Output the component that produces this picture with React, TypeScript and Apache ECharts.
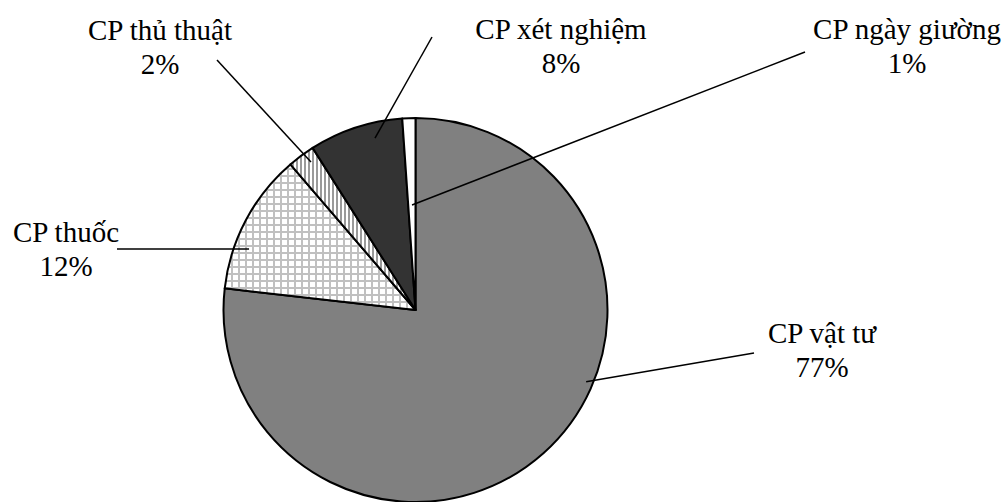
import React, { useEffect, useRef } from "react";
import * as echarts from "echarts";

// ---- data ----
const CATEGORIES = ["CP vật tư", "CP thuốc", "CP thủ thuật", "CP xét nghiệm", "CP ngày giường"];
const VALUES = [76.8, 11.9, 2.3, 7.9, 1.1];

// ---- layout (pixels / fractions) ----
const CX = 415.5;
const CY = 310;
const R = 192;
const LABEL_CENTERS = [[822, 350], [66, 249], [160, 47], [561, 46], [907, 46]];
const LINE_STARTS = [[754, 353], [117, 249], [217, 60], [432, 37], [805, 52]];
const LEADER_ANGLE_FRAC = [0.408, 0.318, 0.66, 0.673, 0.52];
const LEADER_RADIUS_FRAC = [0.964, 0.923, 0.944, 0.92, 0.547];

function makePattern(kind: "grid" | "stripes") {
  const c = document.createElement("canvas");
  const w = kind === "grid" ? 7 : 4;
  const h = kind === "grid" ? 7 : 4;
  c.width = w;
  c.height = h;
  const ctx = c.getContext("2d")!;
  ctx.fillStyle = "#ffffff";
  ctx.fillRect(0, 0, w, h);
  if (kind === "grid") {
    ctx.fillStyle = "#c0c0c0";
    ctx.fillRect(0, 0, w, 2);
    ctx.fillRect(0, 0, 2, h);
  } else {
    ctx.fillStyle = "#9a9a9a";
    ctx.fillRect(0, 0, 2, h);
  }
  return { image: c.toDataURL(), imageWidth: w, imageHeight: h, repeat: "repeat" as const };
}

export default function App() {
  const ref = useRef<HTMLDivElement>(null);
  useEffect(() => {
    if (!ref.current) return;
    const chart = echarts.init(ref.current, null, { renderer: "svg" });
    const total = VALUES.reduce((a, b) => a + b, 0);
    const starts: number[] = [];
    let acc = 0;
    VALUES.forEach((v) => {
      starts.push((acc / total) * 360);
      acc += v;
    });
    const fills: any[] = ["#808080", makePattern("grid"), makePattern("stripes"), "#333333", "#ffffff"];
    const common = {
      type: "pie",
      center: [CX, CY],
      radius: [0, R],
      startAngle: 90,
      clockwise: true,
      percentPrecision: 0,
      avoidLabelOverlap: false,
      emphasis: { disabled: true },
      silent: true,
    };
    chart.setOption({
      animation: false,
      backgroundColor: "#ffffff",
      series: [
        {
          ...common,
          z: 2,
          itemStyle: { borderColor: "#000000", borderWidth: 2 },
          label: { show: false },
          labelLine: { show: false },
          data: CATEGORIES.map((name, i) => ({
            name,
            value: VALUES[i],
            itemStyle: { color: fills[i] },
          })),
        },
        {
          ...common,
          z: 5,
          itemStyle: { color: "rgba(0,0,0,0)", borderWidth: 0 },
          label: {
            show: true,
            position: "outside",
            formatter: "{b}\n{d}%",
            fontFamily: "Liberation Serif",
            fontSize: 29,
            lineHeight: 34,
            color: "#000000",
            align: "center",
          },
          labelLine: { show: true, showAbove: true, lineStyle: { color: "#000000", width: 1.5 } },
          labelLayout: (p: any) => {
            const i = p.dataIndex;
            const span = (VALUES[i] / total) * 360;
            const theta = ((starts[i] + span * LEADER_ANGLE_FRAC[i]) * Math.PI) / 180;
            const r = R * LEADER_RADIUS_FRAC[i];
            const end = [CX + r * Math.sin(theta), CY - r * Math.cos(theta)];
            return {
              x: LABEL_CENTERS[i][0],
              y: LABEL_CENTERS[i][1],
              align: "center",
              verticalAlign: "middle",
              labelLinePoints: [LINE_STARTS[i], LINE_STARTS[i], end],
            };
          },
          data: CATEGORIES.map((name, i) => ({ name, value: VALUES[i] })),
        },
      ],
    });
    return () => chart.dispose();
  }, []);
  return (
    <div
      ref={ref}
      style={{ position: "absolute", left: 0, top: 0, width: 1005, height: 502, background: "#fff" }}
    />
  );
}
